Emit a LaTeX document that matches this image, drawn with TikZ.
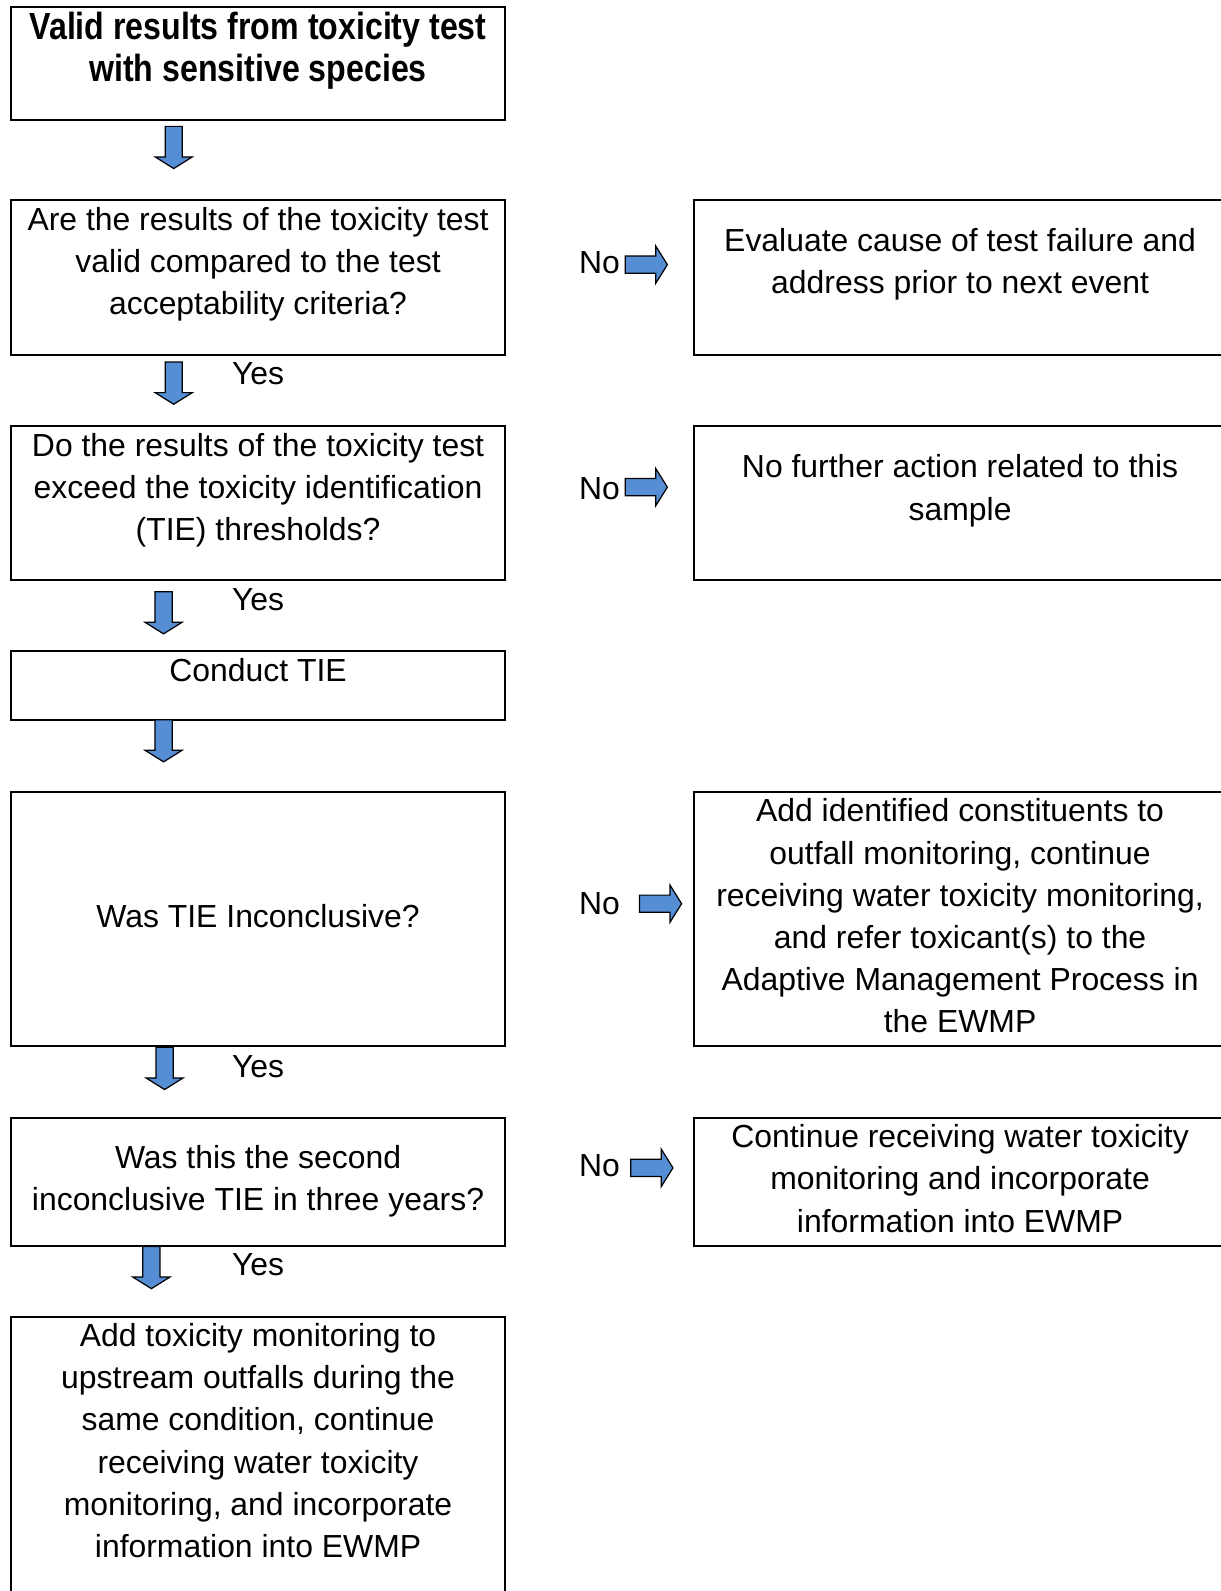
\documentclass[tikz,border=0pt]{standalone}
\usepackage{fontspec}
\setmainfont{Liberation Sans}
\newfontfamily\titlefont[FakeStretch=0.85]{Liberation Sans}
\usetikzlibrary{shapes.arrows}
\definecolor{arrowblue}{RGB}{85,142,213}

\begin{document}
\begin{tikzpicture}[x=1pt,y=-1pt]

        \useasboundingbox (0,0) rectangle (1201,1566);

        \begin{scope}[every node/.style={draw, line width=2pt, inner sep=0pt}]
          % left column
          \node (b1) [minimum width=486pt, minimum height=111pt] at (254,62.5)  {};
          \node (b2) [minimum width=486pt, minimum height=152pt] at (254,273)   {};
          \node (b3) [minimum width=486pt, minimum height=152pt] at (254,495)   {};
          \node (b4) [minimum width=486pt, minimum height=68pt]  at (254,675)   {};
          \node (b5) [minimum width=486pt, minimum height=250pt] at (254,905)   {};
          \node (b6) [minimum width=486pt, minimum height=126pt] at (254,1163)  {};
          \node (b7) [minimum width=486pt, minimum height=314pt] at (254,1453)  {};
          % right column
          \node (r1) [minimum width=557pt, minimum height=152pt] at (961.5,273)  {};
          \node (r2) [minimum width=557pt, minimum height=152pt] at (961.5,495)  {};
          \node (r3) [minimum width=557pt, minimum height=250pt] at (961.5,905)  {};
          \node (r4) [minimum width=557pt, minimum height=126pt] at (961.5,1163) {};
        \end{scope}

        \begin{scope}[every node/.style={align=center, inner sep=0pt,
            font=\fontsize{31.4}{41.5}\selectfont}]
          \node (t1) [font=\titlefont\bfseries\fontsize{37.2}{41.5}\selectfont] at (254,50)
            {Valid results from toxicity test\\with sensitive species};
          \node (t2) at (254,260) {Are the results of the toxicity test\\valid compared to the test\\acceptability criteria?};
          \node (t3) at (254,482.5) {Do the results of the toxicity test\\exceed the toxicity identification\\(TIE) thresholds?};
          \node (t4) at (254,660) {Conduct TIE};
          \node (t5) at (254,902) {Was TIE Inconclusive?};
          \node (t6) at (254,1163) {Was this the second\\inconclusive TIE in three years?};
          \node (t7) at (254,1418) {Add toxicity monitoring to\\upstream outfalls during the\\same condition, continue\\receiving water toxicity\\monitoring, and incorporate\\information into EWMP};

          \node (s1) at (945,260.5) {Evaluate cause of test failure and\\address prior to next event};
          \node (s2) at (945,483) {No further action related to this\\sample};
          \node (s3) at (945,901.5) {Add identified constituents to\\outfall monitoring, continue\\receiving water toxicity monitoring,\\and refer toxicant(s) to the\\Adaptive Management Process in\\the EWMP};
          \node (s4) at (945,1160) {Continue receiving water toxicity\\monitoring and incorporate\\information into EWMP};

          % answers
          \node (y1) at (254,368)  {Yes};
          \node (y2) at (254,590)  {Yes};
          \node (y3) at (254,1050) {Yes};
          \node (y4) at (254,1245) {Yes};
          \node (n1) at (590,259)  {No};
          \node (n2) at (590,481)  {No};
          \node (n3) at (590,889)  {No};
          \node (n4) at (590,1147) {No};
        \end{scope}

        \begin{scope}[every node/.style={single arrow, draw=black, fill=arrowblue,
            line width=1.2pt, inner xsep=0pt, inner ysep=7.85pt, minimum height=41.5pt,
            single arrow head extend=9.85pt, single arrow tip angle=116}]
          % down
          \node (a1) [rotate=-90] at (171,142.5) {};
          \node (a2) [rotate=-90] at (171,374.5) {};
          \node (a3) [rotate=-90] at (161,600.5) {};
          \node (a4) [rotate=-90] at (161,726.5) {};
          \node (a5) [rotate=-90] at (162,1049)  {};
          \node (a6) [rotate=-90] at (149,1245)  {};
          % right
          \node (h1) at (633.5,260.5)  {};
          \node (h2) at (633.5,479.5)  {};
          \node (h3) at (647.5,889.5)  {};
          \node (h4) at (639,1149.5)   {};
        \end{scope}

      \end{tikzpicture}
\end{document}
